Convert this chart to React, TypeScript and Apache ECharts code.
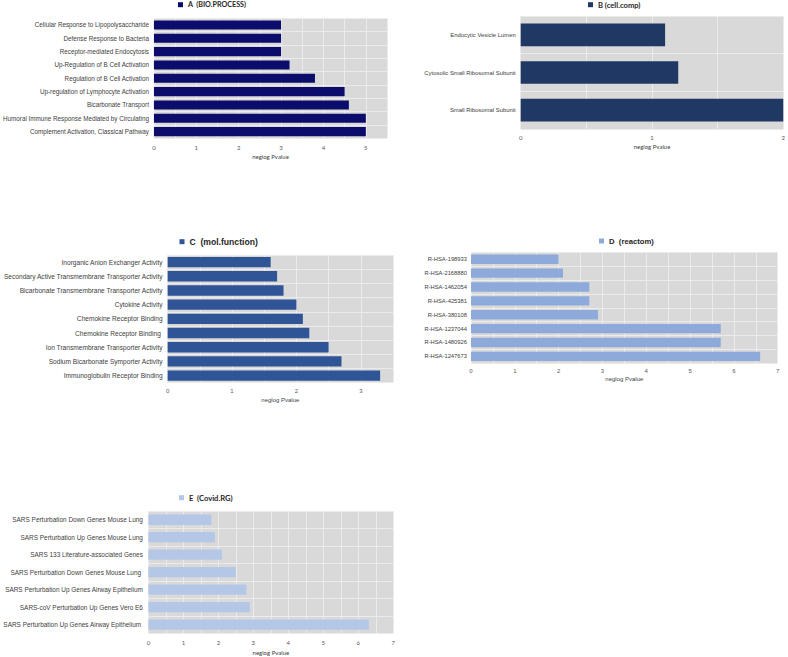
import React, { useEffect, useRef } from 'react';
import * as echarts from 'echarts';

// ---- Data (top to bottom as displayed) ----
const aName = 'A  (BIO.PROCESS)';
const aCategories = [
  'Cellular Response to Lipopolysaccharide',
  'Defense Response to Bacteria',
  'Receptor-mediated Endocytosis',
  'Up-Regulation of B Cell Activation',
  'Regulation of B Cell Activation',
  'Up-regulation of Lymphocyte Activation',
  'Bicarbonate Transport',
  'Humoral Immune Response Mediated by Circulating',
  'Complement Activation, Classical Pathway',
];
const aValues = [3.0, 3.0, 3.0, 3.2, 3.8, 4.5, 4.6, 5.0, 5.0];

const bName = 'B (cell.comp)';
const bCategories = ['Endocytic Vesicle Lumen', 'Cytosolic Small Ribosomal Subunit', 'Small Ribosomal Subunit'];
const bValues = [1.1, 1.2, 2.0];

const cName = 'C  (mol.function)';
const cCategories = [
  'Inorganic Anion Exchanger Activity',
  'Secondary Active Transmembrane Transporter Activity',
  'Bicarbonate Transmembrane Transporter Activity',
  'Cytokine Activity',
  'Chemokine Receptor Binding',
  'Chemokine Receptor Binding ',
  'Ion Transmembrane Transporter Activity',
  'Sodium Bicarbonate Symporter Activity',
  'Immunoglobulin Receptor Binding',
];
const cValues = [1.6, 1.7, 1.8, 2.0, 2.1, 2.2, 2.5, 2.7, 3.3];

const dName = 'D  (reactom)';
const dCategories = [
  'R-HSA-198933',
  'R-HSA-2168880',
  'R-HSA-1462054',
  'R-HSA-425381',
  'R-HSA-380108',
  'R-HSA-1237044',
  'R-HSA-1480926',
  'R-HSA-1247673',
];
const dValues = [2.0, 2.1, 2.7, 2.7, 2.9, 5.7, 5.7, 6.6];

const eName = 'E  (Covid.RG)';
const eCategories = [
  'SARS Perturbation Down Genes Mouse Lung',
  'SARS Perturbation Up Genes Mouse Lung',
  'SARS 133 Literature-associated Genes',
  'SARS Perturbation Down Genes Mouse Lung ',
  'SARS Perturbation Up Genes Airway Epithelium',
  'SARS-coV Perturbation Up Genes Vero E6',
  'SARS Perturbation Up Genes Airway Epithelium ',
];
const eValues = [1.8, 1.9, 2.1, 2.5, 2.8, 2.9, 6.3];

const xAxisName = 'neglog Pvalue';

const ARIAL = '"Liberation Sans", Arial, sans-serif';
const CALIBRI = 'Lato, "Open Sans", sans-serif';

type Panel = {
  name: string;
  cats: string[];
  vals: number[];
  color: string;
  grid: { left: number; top: number; width: number; height: number };
  max: number;
  gap: string;
  catFont: number;
  catMargin: number;
  tickMargin: number;
  nameGap: number;
  legend: { left: number; cy: number; font: number; family: string; icon: number };
  nameFamily: string;
};

const panels: Panel[] = [
  {
    name: aName, cats: aCategories, vals: aValues, color: '#0c0c6c',
    grid: { left: 153.3, top: 18.3, width: 233.7, height: 120 }, max: 5.5, gap: '32%',
    catFont: 6.3, catMargin: 5, tickMargin: 6, nameGap: 15,
    legend: { left: 178, cy: 4.7, font: 7.2, family: CALIBRI, icon: 5 }, nameFamily: CALIBRI,
  },
  {
    name: bName, cats: bCategories, vals: bValues, color: '#1f3864',
    grid: { left: 520.7, top: 16, width: 265, height: 113 }, max: 2, gap: '40%',
    catFont: 5.9, catMargin: 5, tickMargin: 5, nameGap: 14,
    legend: { left: 588, cy: 4.7, font: 7.6, family: CALIBRI, icon: 5 }, nameFamily: CALIBRI,
  },
  {
    name: cName, cats: cCategories, vals: cValues, color: '#2f5597',
    grid: { left: 166.7, top: 255, width: 226.3, height: 127.7 }, max: 3.5, gap: '27%',
    catFont: 6.6, catMargin: 5, tickMargin: 5, nameGap: 14,
    legend: { left: 179.5, cy: 241.7, font: 8.6, family: ARIAL, icon: 5 }, nameFamily: ARIAL,
  },
  {
    name: dName, cats: dCategories, vals: dValues, color: '#8eaadb',
    grid: { left: 471, top: 252.3, width: 306.7, height: 111 }, max: 7, gap: '33%',
    catFont: 5.8, catMargin: 4, tickMargin: 4.5, nameGap: 13,
    legend: { left: 599, cy: 241, font: 7.7, family: ARIAL, icon: 5 }, nameFamily: ARIAL,
  },
  {
    name: eName, cats: eCategories, vals: eValues, color: '#b4c7e7',
    grid: { left: 145, top: 511, width: 248.3, height: 122.3 }, max: 7, gap: '41%',
    catFont: 6.45, catMargin: 5.5, tickMargin: 6.5, nameGap: 16,
    legend: { left: 179, cy: 497.7, font: 7.6, family: CALIBRI, icon: 5 }, nameFamily: CALIBRI,
  },
];

const intLabel = (v: number) => (Math.abs(v - Math.round(v)) < 1e-9 ? String(Math.round(v)) : '');

function buildOption() {
  const grid: any[] = [];
  const xAxis: any[] = [];
  const yAxis: any[] = [];
  const series: any[] = [];
  const legend: any[] = [];
  panels.forEach((p, i) => {
    grid.push({
      ...p.grid,
      show: true,
      backgroundColor: '#d9d9d9',
      borderWidth: 0,
      containLabel: false,
    });
    xAxis.push({
      type: 'value',
      gridIndex: i,
      min: 0,
      max: p.max,
      interval: 0.5,
      name: xAxisName,
      nameLocation: 'middle',
      nameGap: p.nameGap,
      nameTextStyle: { fontSize: 6, color: '#404040', fontFamily: p.nameFamily },
      axisLine: { show: false },
      axisTick: { show: false },
      axisLabel: { formatter: intLabel, fontSize: 6, color: '#595959', margin: p.tickMargin, fontFamily: p.nameFamily, showMaxLabel: true },
      splitLine: { show: true, lineStyle: { color: '#ebebeb', width: 1 } },
    });
    yAxis.push({
      type: 'category',
      gridIndex: i,
      data: p.cats,
      inverse: true,
      axisLine: { show: false },
      axisTick: { show: false },
      axisLabel: { fontSize: p.catFont, color: '#404040', margin: p.catMargin, fontFamily: ARIAL },
      splitLine: { show: true, lineStyle: { color: '#ebebeb', width: 1 } },
    });
    series.push({
      type: 'bar',
      name: p.name,
      xAxisIndex: i,
      yAxisIndex: i,
      data: p.vals,
      barCategoryGap: p.gap,
      itemStyle: { color: p.color },
    });
    const lh = p.legend.font * 1.2;
    legend.push({
      data: [p.name],
      left: p.legend.left,
      top: p.legend.cy - lh / 2,
      padding: 0,
      icon: 'rect',
      itemWidth: p.legend.icon,
      itemHeight: p.legend.icon,
      selectedMode: false,
      textStyle: { fontSize: p.legend.font, fontWeight: 'bold', color: '#262626', fontFamily: p.legend.family, lineHeight: lh },
    });
  });
  return { animation: false, grid, xAxis, yAxis, series, legend };
}

export default function App() {
  const ref = useRef<HTMLDivElement>(null);
  useEffect(() => {
    if (!ref.current) return;
    const chart = echarts.init(ref.current, undefined, { renderer: 'svg' });
    chart.setOption(buildOption() as any);
    return () => chart.dispose();
  }, []);
  return (
    <div
      ref={ref}
      style={{ position: 'fixed', left: 0, top: 0, width: 788, height: 657, background: '#ffffff' }}
    />
  );
}
